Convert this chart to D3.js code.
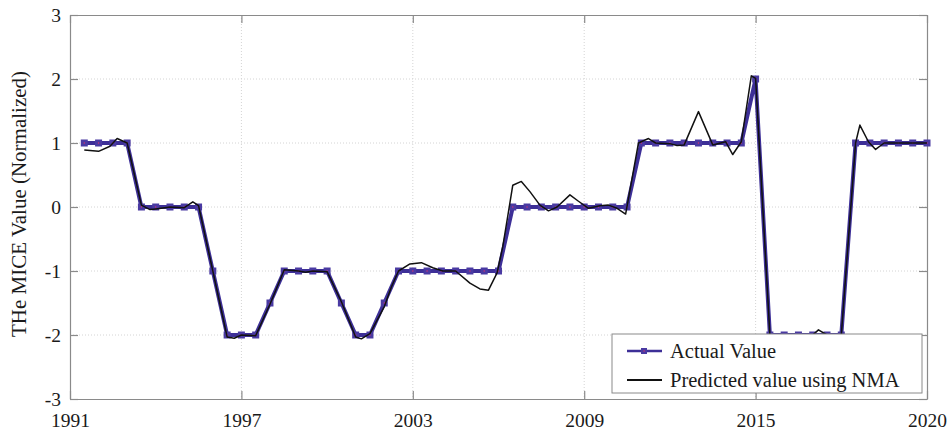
<!DOCTYPE html>
<html>
<head>
<meta charset="utf-8">
<script src="https://cdn.jsdelivr.net/npm/d3@7"></script>
<style>
  html, body { margin: 0; padding: 0; background: #fff; }
  svg { display: block; }
  text { font-family: "Liberation Serif", "DejaVu Serif", serif; fill: #1a1a1a; }
</style>
</head>
<body>
<svg id="chart" width="951" height="434"></svg>
<script>
// ---- data ----
const xTickPos = [0, 12, 24, 36, 48, 60];
const xTickLabels = ["1991", "1997", "2003", "2009", "2015", "2020"];
const yTicks = [3, 2, 1, 0, -1, -2, -3];

const actualX = d3.range(1, 61);
const actualY = [
  1, 1, 1, 1,
  0, 0, 0, 0, 0,
  -1,
  -2, -2, -2,
  -1.5,
  -1, -1, -1, -1,
  -1.5,
  -2, -2,
  -1.5,
  -1, -1, -1, -1, -1, -1, -1, -1,
  0, 0, 0, 0, 0, 0, 0, 0, 0,
  1, 1, 1, 1, 1, 1, 1, 1,
  2,
  -2, -2, -2, -2, -2, -2,
  1, 1, 1, 1, 1, 1
];

const predX = [1, 2, 2.8, 3.3, 4, 5, 5.6, 6, 7, 8, 8.6, 9, 10, 11, 11.5, 12, 13, 14, 15, 16, 16.5, 17, 18,
  19, 20, 20.4, 21, 22, 22.5, 23, 23.8, 24.6, 25.4, 26.1, 27, 28, 28.7, 29.3, 29.9, 30.3,
  31, 31.6, 32.2, 32.9, 33.5, 34.1, 35, 35.6, 36.3, 37.1, 37.7, 38.3, 38.9, 39.8, 40.5, 41,
  42, 42.5, 43, 44, 45, 45.9, 46.4, 47, 47.7, 48, 49, 50, 51, 52, 52.4, 53, 54, 55, 55.3,
  55.9, 56.4, 57, 58, 59, 60];
const predY = [0.89, 0.87, 0.95, 1.07, 1.0, 0.03, -0.04, -0.03, 0.0, -0.01, 0.08, 0.02, -1.0, -2.03, -2.05, -2.0, -2.01, -1.52, -0.98, -1.0, -1.02, -1.0, -1.01,
  -1.48, -2.03, -2.06, -1.98, -1.56, -1.25, -1.0, -0.89, -0.87, -0.95, -1.0, -1.0, -1.19, -1.28, -1.3, -1.03, -0.62,
  0.34, 0.40, 0.24, 0.03, -0.06, 0.0, 0.19, 0.09, -0.02, 0.02, 0.03, -0.02, -0.11, 1.0, 1.07, 1.0,
  0.99, 0.96, 0.97, 1.49, 0.97, 1.02, 0.82, 1.02, 2.05, 2.01, -2.0, -2.0, -2.0, -2.0, -1.92, -2.0, -2.0, 1.0, 1.28,
  1.02, 0.90, 1.0, 1.0, 1.0, 1.0];

const seriesNames = ["Actual Value", "Predicted value using NMA"];
const yLabel = "THe MICE Value (Normalized)";

// ---- layout ----
const svg = d3.select("#chart");
const m = { left: 70, top: 15, right: 24, bottom: 35 };
const W = 951, H = 434;
const iw = W - m.left - m.right, ih = H - m.top - m.bottom;

const x = d3.scaleLinear().domain([0, 60]).range([m.left, m.left + iw]);
const y = d3.scaleLinear().domain([-3, 3]).range([m.top + ih, m.top]);

const frameColor = "#8a8a8a";
const tickLen = 8;

// grid
const grid = svg.append("g");
grid.selectAll("line.gy").data(yTicks.filter(v => v > -3 && v < 3)).join("line")
  .attr("x1", m.left).attr("x2", m.left + iw)
  .attr("y1", d => y(d)).attr("y2", d => y(d))
  .attr("stroke", "#d4d4d4").attr("stroke-width", 1).attr("stroke-dasharray", "1,2");
grid.selectAll("line.gx").data(xTickPos.filter(v => v > 0 && v < 60)).join("line")
  .attr("y1", m.top).attr("y2", m.top + ih)
  .attr("x1", d => x(d)).attr("x2", d => x(d))
  .attr("stroke", "#d4d4d4").attr("stroke-width", 1).attr("stroke-dasharray", "1,2");

// axes
const xAxisB = d3.axisBottom(x).tickValues(xTickPos).tickFormat((d, i) => xTickLabels[i]).tickSizeInner(-tickLen).tickSizeOuter(0).tickPadding(14);
const xAxisT = d3.axisTop(x).tickValues(xTickPos).tickFormat("").tickSizeInner(-tickLen).tickSizeOuter(0);
const yAxisL = d3.axisLeft(y).tickValues(yTicks).tickFormat(d => d < 0 ? "-" + Math.abs(d) : String(d)).tickSizeInner(-tickLen).tickSizeOuter(0).tickPadding(9);
const yAxisR = d3.axisRight(y).tickValues(yTicks).tickFormat("").tickSizeInner(-tickLen).tickSizeOuter(0);

function styleAxis(g) {
  g.select(".domain").attr("stroke", frameColor).attr("stroke-width", 1.2);
  g.selectAll(".tick line").attr("stroke", frameColor).attr("stroke-width", 1.2);
  g.selectAll(".tick text").attr("font-family", "Liberation Serif, serif").attr("font-size", 19.5).attr("fill", "#1a1a1a");
}
svg.append("g").attr("transform", `translate(0,${m.top + ih})`).call(xAxisB).call(styleAxis);
svg.append("g").attr("transform", `translate(0,${m.top})`).call(xAxisT).call(styleAxis);
svg.append("g").attr("transform", `translate(${m.left},0)`).call(yAxisL).call(styleAxis);
svg.append("g").attr("transform", `translate(${m.left + iw},0)`).call(yAxisR).call(styleAxis);

// y label
svg.append("text")
  .attr("transform", `translate(26,${m.top + ih / 2 - 3}) rotate(-90)`)
  .attr("text-anchor", "middle")
  .attr("font-size", 21)
  .text(yLabel);

// ---- series ----
const blue = "#3d2f97";
const actualData = actualX.map((d, i) => [d, actualY[i]]);
const predData = predX.map((d, i) => [d, predY[i]]);
const line = d3.line().x(d => x(d[0])).y(d => y(d[1]));

svg.append("path").datum(actualData).attr("d", line)
  .attr("fill", "none").attr("stroke", blue).attr("stroke-width", 4).attr("stroke-linejoin", "round");

svg.append("g").selectAll("rect").data(actualData).join("rect")
  .attr("x", d => x(d[0]) - 3.5).attr("y", d => y(d[1]) - 3.5)
  .attr("width", 7).attr("height", 7).attr("fill", "#4a3aa2");
svg.append("g").selectAll("rect").data(actualData).join("rect")
  .attr("x", d => x(d[0]) - 0.6).attr("y", d => y(d[1]) - 0.6)
  .attr("width", 1.2).attr("height", 1.2).attr("fill", "#e0306a");

svg.append("path").datum(predData).attr("d", line)
  .attr("fill", "none").attr("stroke", "#111").attr("stroke-width", 1.5).attr("stroke-linejoin", "round");

// ---- legend ----
const lg = svg.append("g");
lg.append("rect").attr("x", 612).attr("y", 334).attr("width", 310).attr("height", 59)
  .attr("fill", "#fff").attr("stroke", frameColor).attr("stroke-width", 1);
const entryY = [351, 380];
lg.append("line").attr("x1", 627).attr("x2", 662).attr("y1", entryY[0]).attr("y2", entryY[0])
  .attr("stroke", blue).attr("stroke-width", 2.5);
lg.append("rect").attr("x", 641).attr("y", entryY[0] - 3).attr("width", 6).attr("height", 6).attr("fill", "#4a3aa2");
lg.append("rect").attr("x", 643.5).attr("y", entryY[0] - 0.6).attr("width", 1.2).attr("height", 1.2).attr("fill", "#e0306a");
lg.append("line").attr("x1", 627).attr("x2", 662).attr("y1", entryY[1]).attr("y2", entryY[1])
  .attr("stroke", "#111").attr("stroke-width", 2);
lg.selectAll("text").data(seriesNames).join("text")
  .attr("x", 670).attr("y", (d, i) => entryY[i]).attr("dy", "0.35em")
  .attr("font-size", 20.5).text(d => d);
</script>
</body>
</html>
